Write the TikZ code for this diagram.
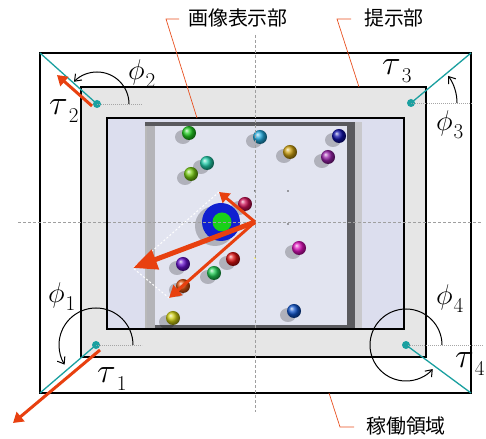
\documentclass[tikz,border=0pt]{standalone}
\usepackage{fontspec}
\newfontfamily\jp{Noto Sans CJK JP}
\usetikzlibrary{arrows.meta}
\definecolor{tealc}{HTML}{1AA0A0}
\definecolor{forcec}{HTML}{E8400F}
\definecolor{leaderc}{HTML}{E85020}
\definecolor{bandc}{HTML}{E6E6E6}
\definecolor{screenc}{HTML}{DCDEEE}
\definecolor{floorc}{HTML}{E2E4F0}
\definecolor{wallL}{HTML}{B4B4B8}
\definecolor{wallD}{HTML}{5A5A5E}
\definecolor{wallR}{HTML}{C8C8CC}
\definecolor{puckc}{HTML}{1020D0}
\definecolor{bA}{HTML}{22CC22}
\definecolor{bB}{HTML}{22AADD}
\definecolor{bC}{HTML}{CCA011}
\definecolor{bD}{HTML}{1111AA}
\definecolor{bE}{HTML}{9922AA}
\definecolor{bF}{HTML}{22CCAA}
\definecolor{bG}{HTML}{77CC11}
\definecolor{bH}{HTML}{CC1155}
\definecolor{bI}{HTML}{DD11BB}
\definecolor{bJ}{HTML}{DD1111}
\definecolor{bK}{HTML}{6611CC}
\definecolor{bL}{HTML}{22CC55}
\definecolor{bM}{HTML}{DD5511}
\definecolor{bN}{HTML}{CCCC11}
\definecolor{bO}{HTML}{1155CC}
% joint angle and joint torque symbols with their index
\newcommand{\phisub}[1]{\scalebox{1.15}{$\phi$}\kern1bp\raisebox{-8bp}{\scalebox{0.85}{#1}}}
\newcommand{\tausub}[1]{\scalebox{1.4}{$\tau$}\kern1bp\raisebox{-8bp}{\scalebox{0.85}{#1}}}
\tikzset{
  frame/.style={draw=black, line width=2bp},
  axis/.style={draw=gray!75, dash pattern=on 3bp off 2bp, line width=0.6bp},
  ray/.style={draw=tealc, line width=1.3bp},
  joint/.style={circle, fill=tealc, inner sep=0pt, minimum size=8bp},
  guide/.style={draw=gray!70, dash pattern=on 1bp off 1bp, line width=0.8bp},
  rot/.style={draw=black, line width=1bp, -{Straight Barb[length=6bp,width=9bp]}},
  force/.style={draw=forcec, line width=3bp, -{Triangle[length=10bp,width=12bp]}},
  bigforce/.style={draw=forcec, line width=5bp, -{Triangle[length=24bp,width=20bp]}},
  leaderline/.style={draw=leaderc, line width=0.7bp},
  jlabel/.style={font=\jp\fontsize{20}{24}\selectfont, inner sep=0pt},
  glabel/.style={font=\Huge, inner sep=0pt, anchor=base west},
  sum/.style={draw=white, dash pattern=on 2bp off 2bp, line width=1bp},
}
\begin{document}
\begin{tikzpicture}[x=1bp, y=1bp]
\useasboundingbox (0,0) rectangle (486,439);

% operating area, display band and screen
\draw[frame, fill=white] (40,46) rectangle (471,386);
\draw[frame, fill=bandc] (81,82) rectangle (426,352);
\fill[screenc] (107,110) rectangle (404,321);

% playing field seen on the screen
\fill[floorc] (153,113) rectangle (350,316);
\fill[wallL] (145,111) rectangle (155,317);
\fill[gray!55] (145,111) rectangle (147,317);
\fill[wallD] (145,313) rectangle (357,317);
\fill[wallD] (347,111) rectangle (355,317);
\fill[wallR] (355,111) rectangle (362,317);
\fill[wallD] (155,111) rectangle (355,114);
\draw[frame] (107,110) rectangle (404,321);

% balls with their shadows
\foreach \bx/\by/\bc in {189/306/bA, 260/302/bB, 290/287/bC, 339/303/bD,
  328/282/bE, 207/276/bF, 191/265/bG, 245/235/bH, 299/191/bI, 233/180/bJ,
  183/175/bK, 214/166/bL, 183/153/bM, 173/121/bN, 294/128/bO}{
  \fill[black, opacity=0.22] (\bx-6,\by-4) ellipse (8 and 7);
  \shade[ball color=\bc] (\bx,\by) circle (7);
}

% robot puck
\fill[black, opacity=0.22] (215,213) circle (20);
\fill[puckc] (221,217) circle (19);
\fill[green!80!black!90] (222,217) circle (9.5);

% marker dots
\fill[black!70] (255,248) circle (1);
\fill[black!70] (288,248) circle (0.8);
\fill[black!70] (288,215) circle (0.8);
\fill[yellow!70!white] (255,181) circle (1);

% coordinate axes
\coordinate (xl) at (18,217);
\coordinate (xr) at (483,217);
\coordinate (yt) at (255,404);
\coordinate (yb) at (255,27);
\draw[axis] (xl) -- (xr);
\draw[axis] (yt) -- (yb);

% force vectors at the centre and their sum
\coordinate (O) at (255,217);
\coordinate (A1) at (219,247);
\coordinate (A3) at (169,141);
\coordinate (A2) at (133,171);
\draw[sum] (A1) -- (A2) -- (A3);
\draw[force] (O) -- (A1);
\draw[force, -{Triangle[length=12bp,width=13bp]}] (O) -- (A3);
\draw[bigforce] (O) -- (A2);

% corner 2 (top left)
\coordinate (C2) at (40,386);
\node[joint] (D2) at (97,335) {};
\coordinate (G2) at (142,335);
\draw[guide] (D2.center) -- (G2);
\draw[ray] (D2.center) -- (C2);
\draw[rot] (D2.center) ++(32,0) arc[start angle=0, end angle=136, radius=32];
\coordinate (F2s) at (92,333);
\coordinate (F2e) at (57,364);
\draw[force] (F2s) -- (F2e);
\node[glabel] (phi2) at (128,359) {\phisub{2}};
\node[glabel] (tau2) at (49,324) {\tausub{2}};

% corner 3 (top right)
\coordinate (C3) at (471,386);
\node[joint] (D3) at (411,336) {};
\coordinate (G3) at (473,336);
\draw[guide] (D3.center) -- (G3);
\draw[ray] (D3.center) -- (C3);
\draw[rot] (D3.center) ++(46,0) arc[start angle=0, end angle=36, radius=46];
\node[glabel] (phi3) at (436,308) {\phisub{3}};
\node[glabel] (tau3) at (382,364) {\tausub{3}};

% corner 1 (bottom left)
\coordinate (C1) at (40,46);
\node[joint] (D1) at (96,94) {};
\coordinate (G1) at (142,94);
\draw[guide] (D1.center) -- (G1);
\draw[ray] (D1.center) -- (C1);
\draw[rot] (D1.center) ++(37,0) arc[start angle=0, end angle=212, radius=37];
\coordinate (F1s) at (100,89);
\coordinate (F1e) at (13,16);
\draw[force] (F1s) -- (F1e);
\node[glabel] (phi1) at (48,136) {\phisub{1}};
\node[glabel] (tau1) at (97,56) {\tausub{1}};

% corner 4 (bottom right)
\coordinate (C4) at (471,46);
\node[joint] (D4) at (406,94) {};
\coordinate (G4) at (483,94);
\draw[guide] (D4.center) -- (G4);
\draw[ray] (D4.center) -- (C4);
\draw[rot] (D4.center) ++(36,0) arc[start angle=0, end angle=318, radius=36];
\node[glabel] (phi4) at (436,134) {\phisub{4}};
\node[glabel] (tau4) at (455,71) {\tausub{4}};

% labels and leader lines
\node[jlabel] (screen) at (238,421) {画像表示部};
\coordinate (s0) at (197,321);
\coordinate (s1) at (166,420);
\coordinate (s2) at (179,420);
\draw[leaderline] (s0) -- (s1) -- (s2);

\node[jlabel] (band) at (394,421) {提示部};
\coordinate (b0) at (359,352);
\coordinate (b1) at (337,420);
\coordinate (b2) at (351,420);
\draw[leaderline] (b0) -- (b1) -- (b2);

\node[jlabel] (area) at (406,13) {稼働領域};
\coordinate (a0) at (329,46);
\coordinate (a1) at (340,12);
\coordinate (a2) at (354,12);
\draw[leaderline] (a0) -- (a1) -- (a2);
\end{tikzpicture}
\end{document}
